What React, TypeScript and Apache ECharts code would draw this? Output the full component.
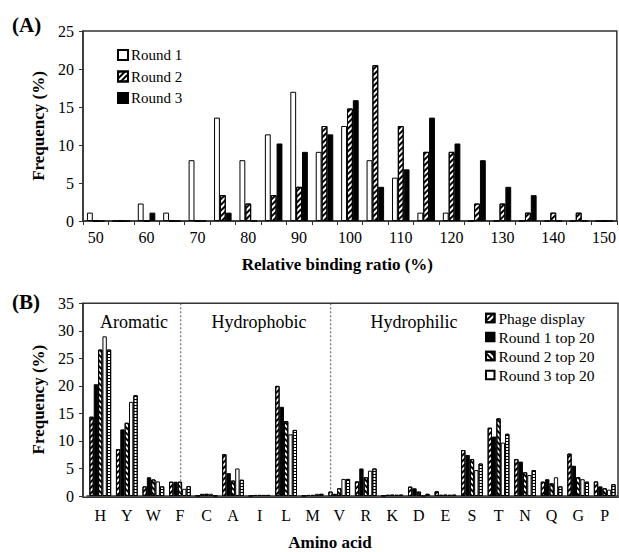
import React, { useEffect, useRef } from 'react';
import * as echarts from 'echarts';

// Panel A: relative binding ratio (%) histogram
const ratioCategories: string[] = ['50', '55', '60', '65', '70', '75', '80', '85', '90', '95', '100', '105', '110', '115', '120', '125', '130', '135', '140', '145', '150'];
const round1: number[] = [1.1, 0, 2.3, 1.1, 8.0, 13.6, 8.0, 11.4, 17.0, 9.1, 12.5, 8.0, 5.7, 1.1, 1.1, 0, 0, 0, 0, 0, 0];
const round2: number[] = [0, 0, 0, 0, 0, 3.4, 2.3, 3.4, 4.5, 12.5, 14.8, 20.5, 12.5, 9.1, 9.1, 2.3, 2.3, 1.1, 1.1, 1.1, 0];
const round3: number[] = [0, 0, 1.1, 0, 0, 1.1, 0, 10.2, 9.1, 11.4, 15.9, 4.5, 6.8, 13.6, 10.2, 8.0, 4.5, 3.4, 0, 0, 0];

// Panel B: amino acid frequency (%)
const aminoAcids: string[] = ['H', 'Y', 'W', 'F', 'C', 'A', 'I', 'L', 'M', 'V', 'R', 'K', 'D', 'E', 'S', 'T', 'N', 'Q', 'G', 'P'];
const phageDisplay: number[] = [14.4, 8.5, 1.75, 2.6, 0, 7.6, 0, 20.0, 0, 0.8, 2.65, 0, 1.7, 0.85, 8.35, 12.4, 6.7, 2.6, 7.7, 2.65];
const round1Top20: number[] = [20.3, 12.1, 3.4, 2.6, 0.4, 4.15, 0.2, 16.2, 0.2, 0.4, 5.0, 0.25, 1.4, 0.25, 7.45, 10.8, 6.25, 3.05, 5.5, 1.75];
const round2Top20: number[] = [26.6, 13.3, 3.0, 2.6, 0.4, 2.8, 0.2, 13.6, 0.2, 1.4, 3.4, 0.25, 0.8, 0.25, 6.7, 14.1, 4.3, 2.3, 3.4, 1.4];
const round3Top20: number[] = [29.0, 17.1, 2.65, 1.3, 0.4, 5.0, 0.2, 11.2, 0.4, 3.1, 4.6, 0.25, 0, 0.25, 4.7, 9.7, 3.8, 3.4, 3.05, 1.15];
const round4Top20: number[] = [26.6, 18.3, 1.75, 1.8, 0, 2.95, 0.2, 12.0, 0.4, 3.1, 5.0, 0.25, 0.4, 0.25, 5.9, 11.3, 4.7, 1.75, 2.6, 2.15];

const legendA: string[] = ['Round 1', 'Round 2', 'Round 3'];
const legendB: string[] = ['Phage display', 'Round 1 top 20', 'Round 2 top 20', 'Round 3 top 20'];

const FONT = '"Liberation Serif", "Times New Roman", serif';
const AX = '#333';

export default function App() {
  const ref = useRef<HTMLDivElement>(null);
  useEffect(() => {
    const chart = echarts.init(ref.current as HTMLDivElement, null, { renderer: 'svg' });
    const stripes = (rot: number, w: number, g: number) => ({
      symbol: 'rect',
      symbolSize: 1,
      dashArrayX: [1, 0],
      dashArrayY: [w, g],
      rotation: rot,
      color: '#000',
      backgroundColor: '#fff',
    });
    const base = { borderColor: '#000', borderWidth: 1 };
    const white = { ...base, color: '#fff' };
    const black = { ...base, color: '#000' };
    const fwd = { ...base, color: '#fff', decal: stripes(-Math.PI / 4, 1.2, 2) };
    const back = { ...base, color: '#fff', decal: stripes(Math.PI / 4, 1.2, 2) };
    const horiz = { ...base, color: '#fff', decal: stripes(0, 1, 1.5) };

    const labelStyle = { color: '#000', fontFamily: FONT, fontSize: 16 };
    const nameStyle = { color: '#000', fontFamily: FONT, fontSize: 17, fontWeight: 'bold' as const };

    const barA = (name: string, data: number[], itemStyle: any) => ({
      name, type: 'bar', xAxisIndex: 0, yAxisIndex: 0, data, itemStyle,
      barGap: '0%', barCategoryGap: '31%',
    });
    const barB = (name: string, data: number[], itemStyle: any) => ({
      name, type: 'bar', xAxisIndex: 1, yAxisIndex: 1, data, itemStyle,
      barGap: '0%', barCategoryGap: '18%',
    });

    const option: any = {
      animation: false,
      backgroundColor: '#fff',
      grid: [
        { left: 83, top: 31, width: 539, height: 190, show: true, borderColor: AX, borderWidth: 1.5 },
        { left: 87, top: 303.3, width: 531, height: 194 },
      ],
      legend: [
        {
          data: legendA, orient: 'vertical', left: 117, top: 47.5, padding: 0, itemWidth: 10, itemHeight: 10, itemGap: 6.5,
          icon: 'rect', selectedMode: false, textStyle: { ...labelStyle, fontSize: 15, padding: [0, 0, 0, -2] },
        },
        {
          data: legendB, orient: 'vertical', left: 485, top: 310, padding: 0, itemWidth: 8.5, itemHeight: 8.5, itemGap: 3,
          icon: 'rect', selectedMode: false, textStyle: { ...labelStyle, fontSize: 15.5, padding: [0, 0, 0, -1] },
        },
      ],
      xAxis: [
        {
          type: 'category', gridIndex: 0, data: ratioCategories, boundaryGap: true,
          axisLine: { lineStyle: { color: AX, width: 1.5 } },
          axisTick: { show: true, interval: 0, length: 4, lineStyle: { color: AX } },
          axisLabel: { ...labelStyle, interval: 1, margin: 8 },
          name: 'Relative binding ratio (%)', nameLocation: 'middle', nameGap: 35,
          nameTextStyle: { ...nameStyle, padding: [0, 25, 0, 0] },
        },
        {
          type: 'category', gridIndex: 1, data: aminoAcids, boundaryGap: true,
          axisLine: { lineStyle: { color: AX, width: 1.5 } },
          axisTick: { show: false },
          axisLabel: { ...labelStyle, interval: 0, margin: 11 },
          name: 'Amino acid', nameLocation: 'middle', nameGap: 38,
          nameTextStyle: { ...nameStyle, padding: [0, 45, 0, 0] },
        },
      ],
      yAxis: [
        {
          type: 'value', gridIndex: 0, min: 0, max: 25, interval: 5,
          axisLine: { show: true, lineStyle: { color: AX, width: 1.5 } },
          axisTick: { show: true, length: 4, lineStyle: { color: AX } },
          splitLine: { show: false },
          axisLabel: { ...labelStyle, margin: 9 },
          name: 'Frequency (%)', nameLocation: 'middle', nameGap: 34, nameTextStyle: nameStyle,
        },
        {
          type: 'value', gridIndex: 1, min: 0, max: 35, interval: 5, offset: 4,
          axisLine: { show: true, lineStyle: { color: AX, width: 1.5 } },
          axisTick: { show: true, length: 4, lineStyle: { color: AX } },
          splitLine: { show: false },
          axisLabel: { ...labelStyle, margin: 9 },
          name: 'Frequency (%)', nameLocation: 'middle', nameGap: 32, nameTextStyle: nameStyle,
        },
      ],
      series: [
        barA('Round 1', round1, white),
        barA('Round 2', round2, fwd),
        barA('Round 3', round3, black),
        barB('Phage display', phageDisplay, fwd),
        barB('Round 1 top 20', round1Top20, black),
        barB('Round 2 top 20', round2Top20, back),
        barB('Round 3 top 20', round3Top20, white),
        barB('Round 4 top 20', round4Top20, horiz),
      ],
      graphic: [
        { type: 'text', x: 12, y: 24.5, style: { text: '(A)', fill: '#000', fontFamily: FONT, fontSize: 21, fontWeight: 'bold', verticalAlign: 'middle' } },
        { type: 'text', x: 12, y: 301.5, style: { text: '(B)', fill: '#000', fontFamily: FONT, fontSize: 21, fontWeight: 'bold', verticalAlign: 'middle' } },
        { type: 'rect', shape: { x: 83, y: 303.3, width: 535, height: 194 }, style: { fill: 'none', stroke: AX, lineWidth: 1.5 }, z: 10 },
        { type: 'line', shape: { x1: 180.7, y1: 303.3, x2: 180.7, y2: 497.3 }, style: { stroke: '#555', lineWidth: 1, lineDash: [2, 2] }, z: 10 },
        { type: 'line', shape: { x1: 330.7, y1: 303.3, x2: 330.7, y2: 497.3 }, style: { stroke: '#555', lineWidth: 1, lineDash: [2, 2] }, z: 10 },
        { type: 'text', x: 134, y: 321.7, style: { text: 'Aromatic', fill: '#000', fontFamily: FONT, fontSize: 18, align: 'center', verticalAlign: 'middle' } },
        { type: 'text', x: 259, y: 321.7, style: { text: 'Hydrophobic', fill: '#000', fontFamily: FONT, fontSize: 18, align: 'center', verticalAlign: 'middle' } },
        { type: 'text', x: 414, y: 321.7, style: { text: 'Hydrophilic', fill: '#000', fontFamily: FONT, fontSize: 18, align: 'center', verticalAlign: 'middle' } },
      ],
    };
    chart.setOption(option);
    return () => chart.dispose();
  }, []);
  return <div ref={ref} style={{ position: 'fixed', left: 0, top: 0, width: 619, height: 552, background: '#fff' }} />;
}
